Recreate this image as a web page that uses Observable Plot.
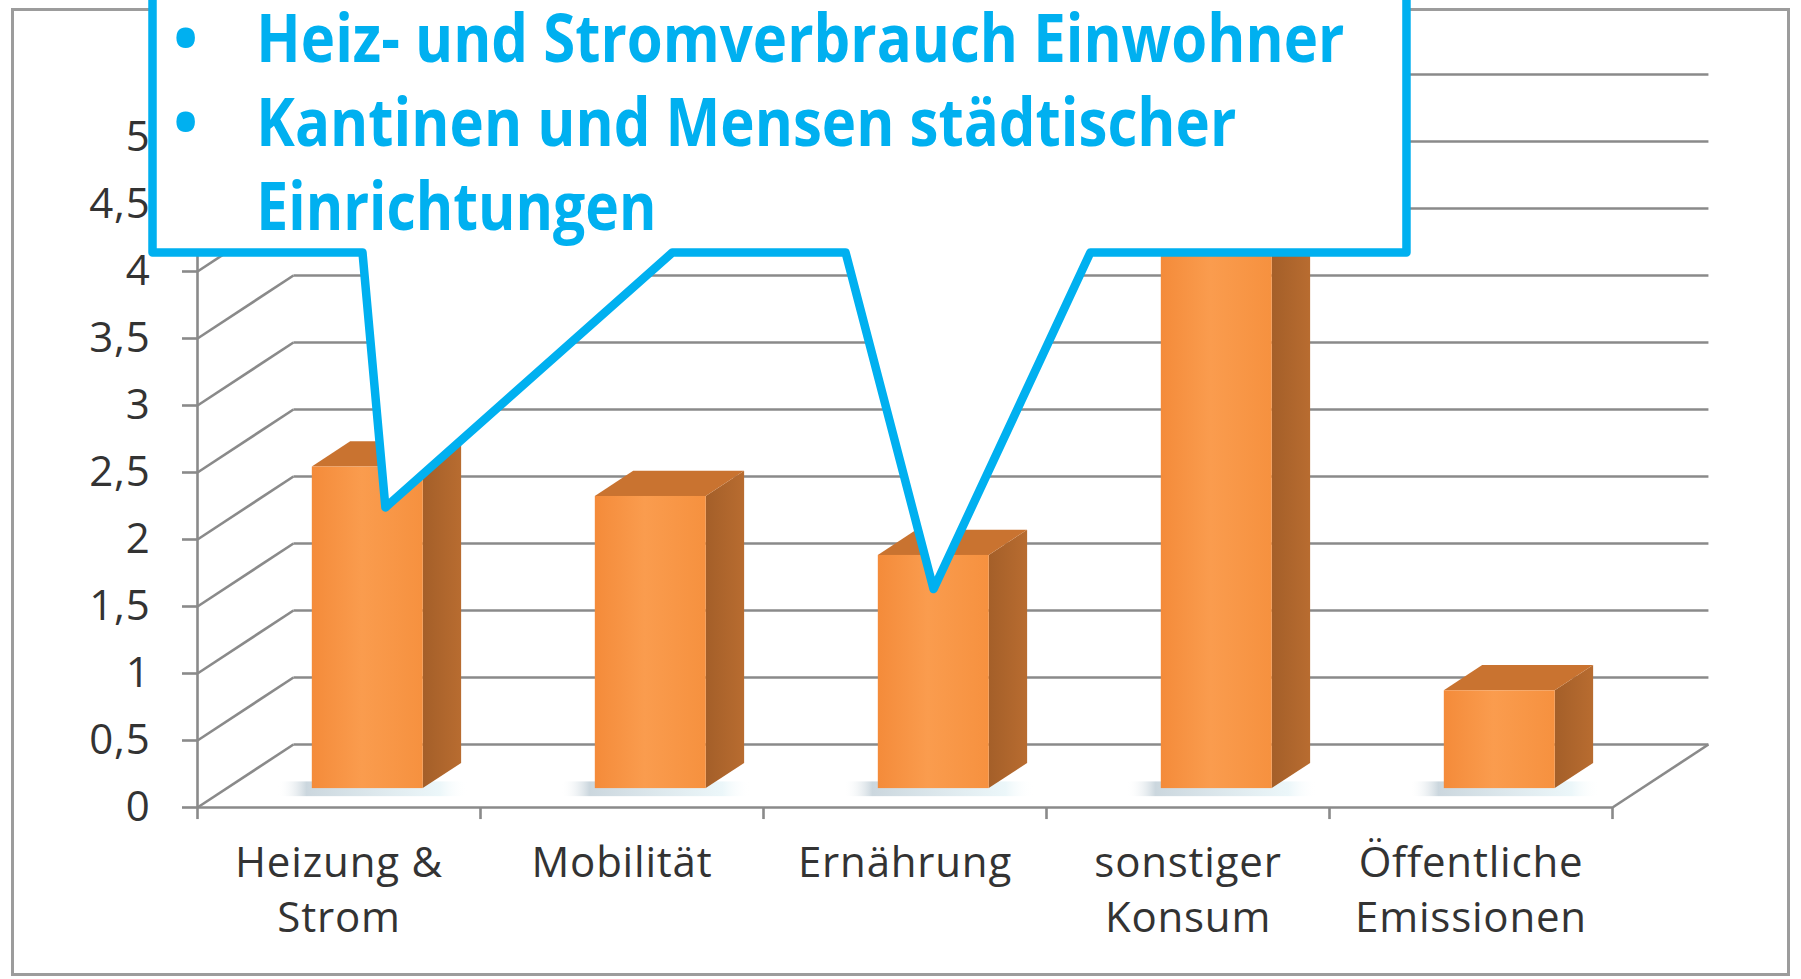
<!DOCTYPE html>
<html>
<head>
<meta charset="utf-8">
<script src="https://cdn.jsdelivr.net/npm/d3@7"></script>
<script src="https://cdn.jsdelivr.net/npm/@observablehq/plot@0.6"></script>
<style>
html, body { margin: 0; padding: 0; background: #fff; width: 1801px; height: 979px; overflow: hidden; }
#wrap { position: relative; width: 1801px; height: 979px; }
#frame { position: absolute; left: 11px; top: 8px; width: 1779px; height: 968px; border: 3px solid #9c9c9c; box-sizing: border-box; }
#chart { position: absolute; left: 0; top: 0; }
</style>
</head>
<body>
<div id="wrap"><div id="frame"></div><div id="chart"></div></div>
<script>
// ---- data ----
const categories = ["Heizung &\nStrom", "Mobilität", "Ernährung", "sonstiger\nKonsum", "Öffentliche\nEmissionen"];
const values = [2.4, 2.18, 1.74, 4.56, 0.73];
const yTicks = [0, 0.5, 1, 1.5, 2, 2.5, 3, 3.5, 4, 4.5, 5];
const yTickLabels = ["0", "0,5", "1", "1,5", "2", "2,5", "3", "3,5", "4", "4,5", "5"];
const calloutLines = ["Heiz- und Stromverbrauch Einwohner", "Kantinen und Mensen städtischer", "Einrichtungen"];
const calloutBullets = ["•", "•"];
// callout outline (annotation), in chart units: x = category units, y = value units
const calloutX = [-0.159, 4.272, 4.272, 3.155, 2.601, 2.290, 1.678, 0.664, 0.583, -0.159, -0.159];
const calloutY = [6.25, 6.25, 4.142, 4.142, 1.63, 4.142, 4.142, 2.239, 4.142, 4.142, 6.25];

// ---- 3D geometry (in chart units) ----
const DX = 0.339, DY = 0.470;     // full floor depth offset
const D0 = 0.30, D1 = 0.70;       // bar depth start/end
const HALF = 0.196;               // half bar width
const bdx = (D1 - D0) * DX, bdy = (D1 - D0) * DY;
const base0 = D0 * DY;

const bars = categories.map((c, i) => {
  const cx = i + 0.5 + D0 * DX;
  return { i, c, v: values[i], xl: cx - HALF, xr: cx + HALF };
});
const sidePts = bars.flatMap(d => [
  { i: d.i, x: d.xr, y1: base0, y2: base0 + d.v },
  { i: d.i, x: d.xr + bdx, y1: base0 + bdy, y2: base0 + bdy + d.v }
]);
const topPts = bars.flatMap(d => [
  { i: d.i, y: base0 + d.v, x1: d.xl, x2: d.xr },
  { i: d.i, y: base0 + bdy + d.v, x1: d.xl + bdx, x2: d.xr + bdx }
]);
const shadowPts = bars.map(d => ({ i: d.i, x1: d.xl - 0.12, x2: d.xr + 0.16, y1: base0 - 0.06, y2: base0 + 0.05 }));
const catBounds = d3.range(categories.length + 1);
const callout = calloutX.map((x, k) => ({ x, y: calloutY[k] }));

const GRID = "#8a8a8a", GW = 2.6;
const BLUE = "#00B0F0";
const LABEL = "#333333";

const plot = Plot.plot({
  width: 1801, height: 979,
  marginLeft: 197, marginRight: 189, marginTop: 137, marginBottom: 172,
  x: { domain: [0, 5], axis: null },
  y: { domain: [0, 5], axis: null },
  style: { background: "transparent", fontFamily: "'Open Sans', sans-serif", overflow: "visible" },
  marks: [
    Plot.rect(shadowPts, { x1: "x1", x2: "x2", y1: "y1", y2: "y2", fill: "url(#shadowGrad)" }),
    // back wall gridlines
    Plot.link(yTicks, { x1: DX, x2: 5 + DX, y1: d => d + DY, y2: d => d + DY, stroke: GRID, strokeWidth: GW }),
    // left wall diagonals
    Plot.link(yTicks, { x1: 0, x2: DX, y1: d => d, y2: d => d + DY, stroke: GRID, strokeWidth: GW }),
    // floor front edge and right diagonal
    Plot.ruleY([0], { x1: 0, x2: 5, stroke: GRID, strokeWidth: GW }),
    Plot.link([0], { x1: 5, y1: 0, x2: 5 + DX, y2: DY, stroke: GRID, strokeWidth: GW }),
    // front y axis + ticks
    Plot.ruleX([0], { y1: 0, y2: 5, stroke: GRID, strokeWidth: GW }),
    Plot.ruleY(yTicks, { y: d => d, x1: 0, x2: -0.053, stroke: GRID, strokeWidth: GW }),
    // category ticks
    Plot.ruleX(catBounds, { x: d => d, y1: 0, y2: -0.09, stroke: GRID, strokeWidth: GW }),
    // bars: side, top, front
    Plot.areaY(sidePts, { x: "x", y1: "y1", y2: "y2", z: "i", fill: "url(#sideGrad)" }),
    Plot.areaX(topPts, { y: "y", x1: "x1", x2: "x2", z: "i", fill: "#C97330" }),
    Plot.rect(bars, { x1: "xl", x2: "xr", y1: base0, y2: d => base0 + d.v, fill: "url(#frontGrad)" }),
    // y tick labels
    Plot.text(yTicks, { x: 0, y: d => d, text: (d, k) => yTickLabels[k], dx: -47, textAnchor: "end", fontSize: 42, fill: LABEL }),
    // category labels
    Plot.text(categories, { x: (d, k) => k + 0.5, y: 0, text: d => d, dy: 31, lineAnchor: "top", fontSize: 42, lineHeight: 1.3, fill: LABEL }),
    // callout
    Plot.line(callout, { x: "x", y: "y", fill: "white", stroke: BLUE, strokeWidth: 8.5, strokeLinejoin: "round" }),
    Plot.text(calloutBullets, { x: -0.042, y: (d, k) => 5.560 - k * 0.627, text: d => d, textAnchor: "middle", lineAnchor: "bottom", fontSize: 66, fontWeight: "bold", fill: BLUE }),
    Plot.text(calloutLines, { x: 0.208, y: (d, k) => 5.560 - k * 0.627, text: d => d, textAnchor: "start", lineAnchor: "bottom", fontSize: 66, fontWeight: "bold", fill: BLUE })
  ]
});

// gradients
const svg = d3.select(plot);
const defs = svg.insert("defs", ":first-child");
const fg = defs.append("linearGradient").attr("id", "frontGrad").attr("x1", 0).attr("x2", 1).attr("y1", 0).attr("y2", 0);
fg.append("stop").attr("offset", 0).attr("stop-color", "#F48B3A");
fg.append("stop").attr("offset", 0.45).attr("stop-color", "#FA9C4E");
fg.append("stop").attr("offset", 1).attr("stop-color", "#F6913F");
const sg = defs.append("linearGradient").attr("id", "sideGrad").attr("x1", 0).attr("x2", 1).attr("y1", 0).attr("y2", 0);
sg.append("stop").attr("offset", 0).attr("stop-color", "#A45F29");
sg.append("stop").attr("offset", 1).attr("stop-color", "#B86C30");
const hg = defs.append("linearGradient").attr("id", "shadowGrad").attr("x1", 0).attr("x2", 1).attr("y1", 0).attr("y2", 0);
hg.append("stop").attr("offset", 0).attr("stop-color", "#ffffff").attr("stop-opacity", 0);
hg.append("stop").attr("offset", 0.15).attr("stop-color", "#a9bcc8").attr("stop-opacity", 0.6);
hg.append("stop").attr("offset", 0.85).attr("stop-color", "#dcf0f5").attr("stop-opacity", 0.55);
hg.append("stop").attr("offset", 1).attr("stop-color", "#ffffff").attr("stop-opacity", 0);

document.getElementById("chart").appendChild(plot);

// fit callout lines to the reference widths; widen axis-label letter spacing
const targetW = [1088, 980, 400];
plot.querySelectorAll("text").forEach(t => {
  const k = calloutLines.indexOf(t.textContent);
  if (k >= 0) { t.setAttribute("textLength", targetW[k]); t.setAttribute("lengthAdjust", "spacingAndGlyphs"); }
});
plot.querySelectorAll("text").forEach(t => {
  if (t.getAttribute("fill") === LABEL || t.closest("g[fill='" + LABEL + "']")) t.style.letterSpacing = "0.8px";
});
</script>
</body>
</html>
